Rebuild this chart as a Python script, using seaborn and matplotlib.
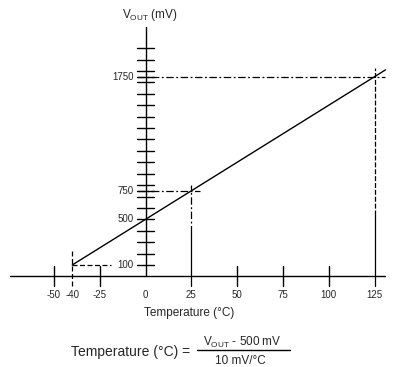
import numpy as np
import pandas as pd
import matplotlib
matplotlib.use("Agg")
import matplotlib.pyplot as plt
import seaborn as sns
from matplotlib.lines import Line2D

sns.set_style("white")
plt.rcParams["font.family"] = ["Liberation Sans", "DejaVu Sans"]
plt.rcParams["mathtext.default"] = "regular"

# transfer function line (10 mV/°C, 500 mV offset)
line_temp = [-40, 131]
line_vout = [100, 1810]

# marked points
pt_temp = [-40, 25, 125]
pt_vout = [100, 750, 1750]

# axis ticks
x_ticks = [-50, -25, 50, 75, 100]
x_labels = [-50, -40, -25, 0, 25, 50, 75, 100, 125]
y_ticks = list(range(100, 2001, 100)) + [750, 1750]
y_labels = [100, 500, 750, 1750]

W, H = 394, 367
fig = plt.figure(figsize=(W / 100, H / 100), dpi=100)
ax = fig.add_axes([0, 0, 1, 1])
ax.set_axis_off()

# pixel mapping: px = 145.5 + 1.832*T ; py = 276.4 - 0.1141*V
sx, x0 = 1.832, 145.5
sy, y0 = 0.1141, 276.4
ax.set_xlim(-x0 / sx, (W - x0) / sx)
ax.set_ylim((y0 - H) / sy, y0 / sy)

k = "black"
lw = 1.0
dd = (0, (6, 2, 1.5, 2))
tx = 8.5 / sx   # half tick length on y axis (°C)
ty = 10 / sy    # half tick length on x axis (mV)

# axes
ax.plot([-74, 131], [0, 0], color=k, lw=lw)
ax.plot([0, 0], [0, 2186], color=k, lw=lw)
for t in x_ticks:
    ax.plot([t, t], [-ty, ty], color=k, lw=lw)
for v in y_ticks:
    ax.plot([-tx, tx], [v, v], color=k, lw=lw)

# reference lines
ax.plot([pt_temp[0], -19], [pt_vout[0], pt_vout[0]], color=k, lw=0.9, ls=(0, (4, 2)))
ax.plot([pt_temp[0], pt_temp[0]], [-ty, pt_vout[0] + 120], color=k, lw=0.9, ls=(0, (4, 2)))
ax.plot([-tx, pt_temp[1] + 5], [pt_vout[1], pt_vout[1]], color=k, lw=0.9, ls=dd)
ax.plot([pt_temp[1], pt_temp[1]], [-ty, 380], color=k, lw=0.9)
ax.plot([pt_temp[1], pt_temp[1]], [380, pt_vout[1] + 50], color=k, lw=0.9, ls=dd)
ax.plot([-tx, 131], [pt_vout[2], pt_vout[2]], color=k, lw=0.9, ls=dd)
ax.plot([pt_temp[2], pt_temp[2]], [-ty, 540], color=k, lw=0.9)
ax.plot([pt_temp[2], pt_temp[2]], [540, pt_vout[2] + 75], color=k, lw=0.9, ls=(0, (4, 1.5)))

# main line
df = pd.DataFrame({"temp": line_temp, "vout": line_vout})
sns.lineplot(data=df, x="temp", y="vout", color=k, lw=1.0, ax=ax)
ax.set_axis_off()

# tick labels
for t in x_labels:
    ax.text(t, -163, str(t), ha="center", va="center", fontsize=7)
for v in y_labels:
    ax.text(-tx - 2, v, str(v), ha="right", va="center", fontsize=7)

def fx(px):
    return px / W

def fy(py):
    return 1 - py / H

fig.text(fx(150), fy(15), r"V$_{OUT}$ (mV)", ha="center", va="center", fontsize=8.5)
fig.text(fx(189), fy(313), "Temperature (°C)", ha="center", va="center", fontsize=8.5)

# formula
fig.text(fx(71), fy(352), "Temperature (°C) =", ha="left", va="center", fontsize=10)
fig.text(fx(242), fy(342), r"V$_{OUT}$ - 500 mV", ha="center", va="center", fontsize=8.5)
fig.text(fx(240), fy(361), "10 mV/°C", ha="center", va="center", fontsize=8.5)
fig.add_artist(Line2D([fx(197), fx(290)], [fy(350), fy(350)], color=k, lw=1.0,
                      transform=fig.transFigure))

fig.savefig("out.png", dpi=100)
